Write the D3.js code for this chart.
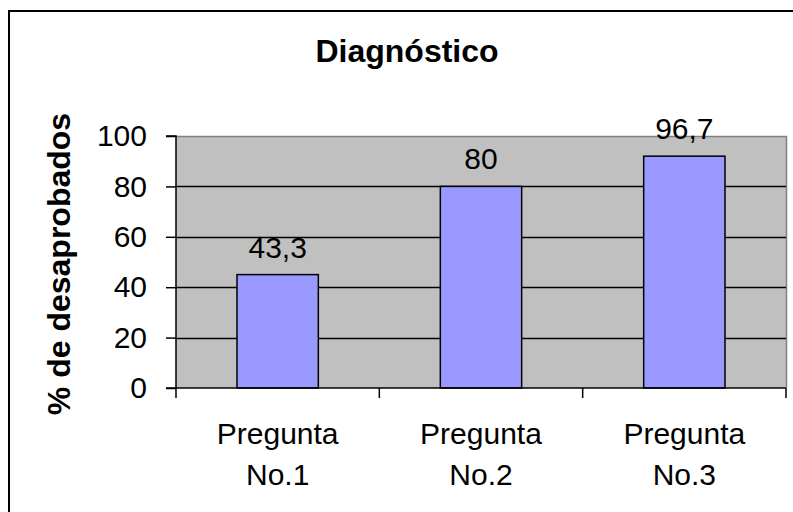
<!DOCTYPE html>
<html>
<head>
<meta charset="utf-8">
<script src="https://cdn.jsdelivr.net/npm/d3@7"></script>
<style>
  html, body { margin: 0; padding: 0; background: #fff; }
  svg { display: block; font-family: "Liberation Sans", Arial, sans-serif; }
</style>
</head>
<body>
<svg id="chart" width="793" height="512"></svg>
<script>
// ---- data ----
const title = "Diagnóstico";
const yAxisTitle = "% de desaprobados";
const categories = ["Pregunta No.1", "Pregunta No.2", "Pregunta No.3"];
const barValues = [45, 80, 92];            // bar heights as drawn
const valueLabels = ["43,3", "80", "96,7"]; // data labels as printed
const yTicks = [0, 20, 40, 60, 80, 100];

// ---- layout ----
const svg = d3.select("#chart");
const plot = { left: 176, right: 786, top: 136, bottom: 388 };
const fontReg = 30;
const fontBold = 32;

// outer chart border
svg.append("rect")
  .attr("x", 9).attr("y", 11)
  .attr("width", 800).attr("height", 520)
  .attr("fill", "#fff").attr("stroke", "#000").attr("stroke-width", 2);

const x = d3.scaleBand()
  .domain(categories)
  .range([plot.left, plot.right])
  .paddingInner(0.6)
  .paddingOuter(0.3);

const y = d3.scaleLinear().domain([0, 100]).range([plot.bottom, plot.top]);

// plot area background
svg.append("rect")
  .attr("x", plot.left).attr("y", plot.top)
  .attr("width", plot.right - plot.left).attr("height", plot.bottom - plot.top)
  .attr("fill", "#C0C0C0");

// plot area top/right border (gray)
svg.append("path")
  .attr("d", `M${plot.left},${plot.top + 0.5}H${plot.right + 0.5}V${plot.bottom}`)
  .attr("fill", "none").attr("stroke", "#808080").attr("stroke-width", 1.5);

// gridlines
svg.append("g")
  .selectAll("line")
  .data(yTicks.filter(t => t > 0 && t < 100))
  .join("line")
  .attr("x1", plot.left).attr("x2", plot.right)
  .attr("y1", d => Math.round(y(d)) + 0.5).attr("y2", d => Math.round(y(d)) + 0.5)
  .attr("stroke", "#000").attr("stroke-width", 1.5);

// bars
svg.append("g")
  .selectAll("rect")
  .data(categories)
  .join("rect")
  .attr("x", d => x(d))
  .attr("y", (d, i) => y(barValues[i]))
  .attr("width", x.bandwidth())
  .attr("height", (d, i) => y(0) - y(barValues[i]))
  .attr("fill", "#9999FF")
  .attr("stroke", "#000")
  .attr("stroke-width", 1.5);

// value labels
svg.append("g")
  .selectAll("text")
  .data(categories)
  .join("text")
  .attr("x", d => x(d) + x.bandwidth() / 2)
  .attr("y", (d, i) => y(barValues[i]) - 17)
  .attr("text-anchor", "middle")
  .attr("font-size", fontReg)
  .attr("fill", "#000")
  .text((d, i) => valueLabels[i]);

// y axis
const yAxis = d3.axisLeft(y).tickValues(yTicks).tickSize(10).tickPadding(19)
  .tickFormat(d3.format("d"));
const gy = svg.append("g").attr("transform", `translate(${plot.left},0)`).call(yAxis);
gy.select(".domain").attr("stroke", "#000").attr("stroke-width", 1.5)
  .attr("d", `M-10,${plot.top}H0V${plot.bottom}`);
gy.selectAll(".tick line").attr("stroke", "#000").attr("stroke-width", 1.5);
gy.selectAll(".tick text")
  .attr("font-size", fontReg).attr("fill", "#000")
  .attr("font-family", '"Liberation Sans", Arial, sans-serif');

// x axis: ticks at band boundaries
const boundaries = [plot.left, ...categories.slice(1).map(c => x(c) - x.step() * x.paddingInner() / 2), plot.right];
const gx = svg.append("g");
gx.append("line")
  .attr("x1", plot.left - 10).attr("x2", plot.right)
  .attr("y1", plot.bottom).attr("y2", plot.bottom)
  .attr("stroke", "#000").attr("stroke-width", 1.5);
gx.selectAll("line.tk")
  .data(boundaries)
  .join("line")
  .attr("class", "tk")
  .attr("x1", d => d).attr("x2", d => d)
  .attr("y1", plot.bottom).attr("y2", plot.bottom + 10)
  .attr("stroke", "#000").attr("stroke-width", 1.5);

// category labels (two lines)
const cat = gx.selectAll("text.cat")
  .data(categories)
  .join("text")
  .attr("class", "cat")
  .attr("text-anchor", "middle")
  .attr("font-size", fontReg)
  .attr("fill", "#000");
cat.each(function(d) {
  const parts = d.split(" ");
  const cx = x(d) + x.bandwidth() / 2;
  d3.select(this).selectAll("tspan")
    .data(parts)
    .join("tspan")
    .attr("x", cx)
    .attr("y", (p, i) => 444 + i * 41)
    .text(p => p);
});

// title
svg.append("text")
  .attr("x", 407).attr("y", 62)
  .attr("text-anchor", "middle")
  .attr("font-size", fontBold)
  .attr("font-weight", "bold")
  .attr("fill", "#000")
  .text(title);

// y axis title
svg.append("text")
  .attr("transform", `translate(70,${(plot.top + plot.bottom) / 2 + 2}) rotate(-90)`)
  .attr("text-anchor", "middle")
  .attr("font-size", fontBold)
  .attr("font-weight", "bold")
  .attr("fill", "#000")
  .text(yAxisTitle);
</script>
</body>
</html>
